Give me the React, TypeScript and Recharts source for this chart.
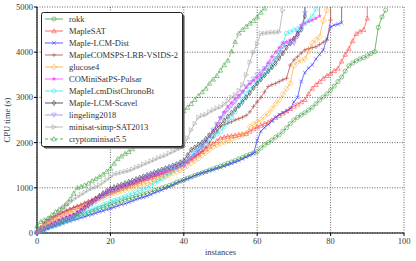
import React from 'react';
import { LineChart, Line, XAxis, YAxis, CartesianGrid, Legend } from 'recharts';

const xTicks = [0, 20, 40, 60, 80, 100];
const yTicks = [0, 1000, 2000, 3000, 4000, 5000];

const rokk = [20,60,90,120,150,170,200,240,270,300,330,360,390,420,450,480,510,540,570,600,620,650,680,710,740,760,780,810,830,860,880,910,940,970,1000,1020,1050,1080,1120,1150,1180,1210,1240,1270,1300,1330,1360,1390,1420,1450,1480,1510,1540,1570,1600,1640,1670,1710,1740,1770,1800,1880,1950,2000,2060,2120,2170,2250,2330,2420,2500,2560,2610,2660,2720,2780,2860,2940,3010,3080,3160,3250,3350,3450,3580,3700,3760,3810,3850,3880,3920,3970,4010,4550,4780,4930];
const mapleSat = [30,110,180,240,300,350,400,440,480,520,560,590,620,660,690,720,760,800,830,870,900,930,960,990,1020,1050,1080,1110,1140,1170,1200,1220,1250,1280,1300,1330,1370,1410,1460,1510,1550,1600,1650,1700,1750,1800,1860,1920,1980,2040,2100,2120,2140,2150,2160,2180,2190,2200,2250,2300,2350,2380,2420,2450,2500,2550,2600,2650,2700,2750,2800,2850,2900,2950,3080,3200,3280,3350,3420,3480,3530,3590,3640,3800,3950,4080,4250,4410,4460,4500,4750];
const mapleLcmDist = [10,40,70,100,130,160,180,210,240,260,290,310,340,360,390,410,440,470,490,520,540,570,600,630,650,680,710,740,770,790,820,850,890,920,950,990,1020,1060,1100,1135,1170,1200,1230,1270,1300,1330,1350,1380,1400,1430,1450,1480,1510,1540,1570,1600,1640,1680,1720,1760,2050,2250,2330,2400,2480,2560,2620,2660,2700,2750,2900,3000,3350,3550,3650,3720,3850,3950,4050,4300,4560,4600,4620,4650];
const mapleComsps = [20,130,230,300,350,380,420,460,500,530,560,590,620,660,700,730,770,800,840,870,900,930,960,990,1020,1050,1080,1110,1140,1170,1200,1230,1260,1290,1320,1350,1380,1410,1440,1470,1500,1560,1620,1680,1740,1800,1900,2000,2120,2240,2350,2400,2430,2460,2500,2530,2560,2600,2680,2800,2900,3000,3120,3240,3280,3310,3350,3390,3420,3715,3830,3900,3980,4050,4080,4100,4120,4170,4220,4270,4710];
const glucose4 = [10,70,130,180,230,280,320,370,410,450,480,520,560,600,630,670,700,740,780,810,850,880,900,930,950,980,1000,1030,1050,1080,1100,1130,1160,1190,1220,1250,1290,1320,1360,1390,1440,1490,1550,1600,1650,1720,1780,1850,1910,1950,1980,2020,2050,2080,2110,2140,2170,2200,2350,2400,2450,2500,2580,2650,2750,2850,2950,3070,3190,3310,3700,3790,3820,3850,4020,4200,4270,4340,4700,4930];
const pulsar = [10,60,110,160,210,250,290,330,360,390,420,470,520,580,640,700,760,820,870,910,950,980,1010,1040,1070,1100,1120,1150,1180,1210,1230,1260,1290,1310,1340,1360,1390,1420,1450,1480,1500,1570,1650,1730,1820,1900,2020,2140,2250,2400,2550,2680,2800,2880,2970,3050,3130,3220,3300,3370,3440,3500,3630,3770,3900,4000,4100,4200,4230,4270,4300,4450,4600,4640,4680,4710,4750,4800];
const chronoBt = [5,40,80,110,140,170,200,230,270,300,330,370,400,440,470,510,550,580,620,650,690,720,750,780,810,840,870,900,940,970,1000,1050,1100,1150,1200,1260,1320,1380,1440,1500,1550,1630,1710,1790,1870,1950,2010,2070,2130,2190,2250,2350,2450,2550,2680,2820,2950,3090,3180,3260,3350,3430,3510,3600,3680,3840,4000,4200,4420,4450,4490,4520,4560,4630,4700,4800,4950];
const scavel = [5,50,90,130,170,200,240,270,310,340,380,430,490,560,620,690,760,820,880,930,980,1010,1040,1070,1100,1130,1160,1190,1220,1250,1280,1310,1340,1370,1400,1430,1460,1490,1520,1560,1600,1720,1840,1890,1950,2000,2080,2160,2240,2320,2400,2490,2575,2660,2740,2820,2900,3000,3100,3210,3310,3400,3490,3580,3670,3750,3870,3980,4100,4200,4300,4400,4500,4800];
const lingeling = [5,45,85,120,160,190,220,260,290,320,350,400,460,520,580,640,700,760,810,860,900,940,970,1010,1040,1080,1110,1150,1180,1220,1250,1280,1310,1340,1370,1400,1430,1460,1490,1520,1550,1620,1690,1760,1830,1900,2030,2160,2280,2410,2535,2630,2720,2810,2900,3010,3120,3240,3330,3410,3500,3570,3640,3710,3790,3860,3990,4120,4150,4180,4200,4350,4500,4860];
const minisat = [10,80,150,230,300,380,460,540,610,680,750,800,850,900,950,990,1020,1060,1120,1180,1240,1300,1320,1340,1360,1380,1410,1450,1480,1520,1550,1590,1620,1660,1690,1720,1760,1800,1840,1880,1920,2100,2280,2420,2560,2600,2620,2680,2720,2760,2790,2850,2920,3000,3060,3150,3280,3500,3780,4000,4190,4420,4420,4430,4440,4440,4450,4930];
const crypto = [150,250,290,330,400,470,520,580,650,750,880,1000,1030,1060,1100,1150,1200,1250,1300,1360,1430,1540,1640,1700,1760,1800,1860,1930,2000,2080,2130,2180,2230,2280,2330,2390,2450,2510,2570,2640,2700,2780,2860,2950,3040,3120,3200,3310,3400,3480,3600,3720,3820,4020,4230,4420,4500,4570,4640,4700,4780,4880,4970];

const FONT = '"Liberation Serif", "Times New Roman", serif';
const Y_MAX = yTicks[yTicks.length - 1];

type Shape = 'circle' | 'triUp' | 'triDown' | 'triRight' | 'x' | 'plus' | 'diamond' | 'star' | 'thinDiamond';

interface SeriesCfg {
  name: string;
  values: number[];
  color: string;
  shape: Shape;
  capped: boolean;
  dashed?: boolean;
}

const SERIES: SeriesCfg[] = [
  { name: 'rokk', values: rokk, color: '#3a9e3a', shape: 'circle', capped: false },
  { name: 'MapleSAT', values: mapleSat, color: '#ff4545', shape: 'triUp', capped: true },
  { name: 'Maple-LCM-Dist', values: mapleLcmDist, color: '#3535ff', shape: 'x', capped: true },
  { name: 'MapleCOMSPS-LRB-VSIDS-2', values: mapleComsps, color: '#b04a4a', shape: 'plus', capped: true },
  { name: 'glucose4', values: glucose4, color: '#ffad33', shape: 'diamond', capped: true },
  { name: 'COMiniSatPS-Pulsar', values: pulsar, color: '#ff3cff', shape: 'star', capped: true },
  { name: 'MapleLcmDistChronoBt', values: chronoBt, color: '#30e6ee', shape: 'circle', capped: true },
  { name: 'Maple-LCM-Scavel', values: scavel, color: '#333333', shape: 'thinDiamond', capped: true },
  { name: 'lingeling2018', values: lingeling, color: '#8a8af5', shape: 'triDown', capped: true },
  { name: 'minisat-simp-SAT2013', values: minisat, color: '#a5a5a5', shape: 'triRight', capped: false },
  { name: 'cryptominisat5.5', values: crypto, color: '#3a9e3a', shape: 'triUp', capped: false, dashed: true },
];

const OP = 0.8;

function Marker({ shape, cx, cy, color }: { shape: Shape; cx: number; cy: number; color: string }) {
  const s = 2.3;
  const common = { fill: 'none', stroke: color, strokeWidth: 0.7, strokeOpacity: OP };
  switch (shape) {
    case 'circle':
      return <circle cx={cx} cy={cy} r={2.1} {...common} />;
    case 'triUp':
      return <polygon points={`${cx},${cy - s} ${cx - s},${cy + s * 0.8} ${cx + s},${cy + s * 0.8}`} {...common} />;
    case 'triDown':
      return <polygon points={`${cx},${cy + s} ${cx - s},${cy - s * 0.8} ${cx + s},${cy - s * 0.8}`} {...common} />;
    case 'triRight':
      return <polygon points={`${cx + s},${cy} ${cx - s * 0.8},${cy - s} ${cx - s * 0.8},${cy + s}`} {...common} />;
    case 'x':
      return (
        <g stroke={color} strokeWidth={0.7} strokeOpacity={OP}>
          <line x1={cx - 1.8} y1={cy - 1.8} x2={cx + 1.8} y2={cy + 1.8} />
          <line x1={cx - 1.8} y1={cy + 1.8} x2={cx + 1.8} y2={cy - 1.8} />
        </g>
      );
    case 'plus':
      return (
        <g stroke={color} strokeWidth={0.7} strokeOpacity={OP}>
          <line x1={cx - 2.2} y1={cy} x2={cx + 2.2} y2={cy} />
          <line x1={cx} y1={cy - 2.2} x2={cx} y2={cy + 2.2} />
        </g>
      );
    case 'diamond':
      return <polygon points={`${cx},${cy - 2.9} ${cx - 2.7},${cy} ${cx},${cy + 2.9} ${cx + 2.7},${cy}`} {...common} />;
    case 'thinDiamond':
      return <polygon points={`${cx},${cy - 2.7} ${cx - 1.6},${cy} ${cx},${cy + 2.7} ${cx + 1.6},${cy}`} {...common} />;
    case 'star': {
      const pts: string[] = [];
      for (let k = 0; k < 10; k++) {
        const r = k % 2 === 0 ? 2.5 : 1.1;
        const a = -Math.PI / 2 + (k * Math.PI) / 5;
        pts.push(`${cx + r * Math.cos(a)},${cy + r * Math.sin(a)}`);
      }
      return <polygon points={pts.join(' ')} fill={color} fillOpacity={OP} stroke="none" />;
    }
    default:
      return null;
  }
}

const toPoints = (s: SeriesCfg) => {
  const pts: { x: number; y: number; cap?: boolean }[] = s.values.map((v, i) => ({ x: i, y: v }));
  if (s.capped) pts.push({ x: s.values.length - 1, y: Y_MAX, cap: true });
  return pts;
};

const LegendBox = () => (
  <svg width={146} height={139} style={{ display: 'block' }}>
    <rect x={2.5} y={2.5} width={141} height={134} rx={2} fill="#555" />
    <rect x={0.5} y={0.5} width={141} height={134} rx={2} fill="#fff" stroke="#222" strokeWidth={1} />
    {SERIES.map((s, k) => {
      const y = 7 + k * 12;
      return (
        <g key={s.name}>
          <line x1={4} x2={22} y1={y} y2={y} stroke={s.color} strokeOpacity={OP} strokeWidth={1} strokeDasharray={s.dashed ? '3 2' : undefined} />
          <Marker shape={s.shape} cx={13} cy={y} color={s.color} />
          <text x={28} y={y} dy="0.33em" fontSize={8.5} fontFamily={FONT} fontWeight="normal" fill="#333" stroke="none">
            {s.name}
          </text>
        </g>
      );
    })}
  </svg>
);

export default function App() {
  const tickStyle = { fontSize: 8.5, fill: '#3a3a3a', fontFamily: FONT, fontWeight: 'normal', stroke: 'none' };
  const labelStyle = { fontSize: 8.5, fontFamily: FONT, fill: '#3a3a3a', fontWeight: 'normal', stroke: 'none' };
  return (
    <div style={{ position: 'fixed', left: 0, top: 0, width: 416, height: 261, background: '#fff' }}>
      <LineChart width={416} height={261} margin={{ top: 7, right: 12, left: 0, bottom: 0 }}>
        <CartesianGrid xAxisId="b" yAxisId="l" stroke="#555" strokeDasharray="1 1.5" strokeWidth={0.9} />
        <XAxis
          xAxisId="b"
          type="number"
          dataKey="x"
          domain={[0, 100]}
          ticks={xTicks}
          height={28}
          tick={tickStyle}
          tickSize={3}
          tickMargin={2}
          axisLine={{ stroke: '#000', strokeWidth: 1.1 }}
          tickLine={{ stroke: '#000' }}
          label={{ value: 'instances', position: 'insideBottom', offset: 6, style: labelStyle }}
        />
        <XAxis xAxisId="t" orientation="top" type="number" domain={[0, 100]} ticks={xTicks} height={0} tick={false} tickLine={false} axisLine={{ stroke: '#000', strokeWidth: 1.1 }} />
        <YAxis
          yAxisId="l"
          type="number"
          domain={[0, Y_MAX]}
          ticks={yTicks}
          width={37}
          tick={tickStyle}
          tickSize={3}
          tickMargin={1}
          axisLine={{ stroke: '#000', strokeWidth: 1.1 }}
          tickLine={{ stroke: '#000' }}
          label={{ value: 'CPU time (s)', angle: -90, position: 'center', dx: -11.5, style: labelStyle }}
        />
        <YAxis yAxisId="r" orientation="right" type="number" domain={[0, Y_MAX]} ticks={yTicks} width={0} tick={false} tickLine={false} axisLine={{ stroke: '#000', strokeWidth: 1.1 }} />
        {SERIES.map((s) => (
          <Line
            key={s.name}
            xAxisId="b"
            yAxisId="l"
            data={toPoints(s)}
            dataKey="y"
            name={s.name}
            type="linear"
            stroke={s.color}
            strokeOpacity={OP}
            strokeWidth={0.9}
            strokeDasharray={s.dashed ? '3 2' : undefined}
            isAnimationActive={false}
            activeDot={false}
            dot={(p: any) =>
              p.payload && p.payload.cap ? (
                <g key={`c${p.index}`} />
              ) : (
                <g key={`d${p.index}`}>
                  <Marker shape={s.shape} cx={p.cx} cy={p.cy} color={s.color} />
                </g>
              )
            }
          />
        ))}
        <Legend
          layout="vertical"
          align="center"
          verticalAlign="middle"
          width={146}
          height={139}
          wrapperStyle={{ left: 41, top: 12 }}
          content={() => <LegendBox />}
        />
      </LineChart>
    </div>
  );
}
